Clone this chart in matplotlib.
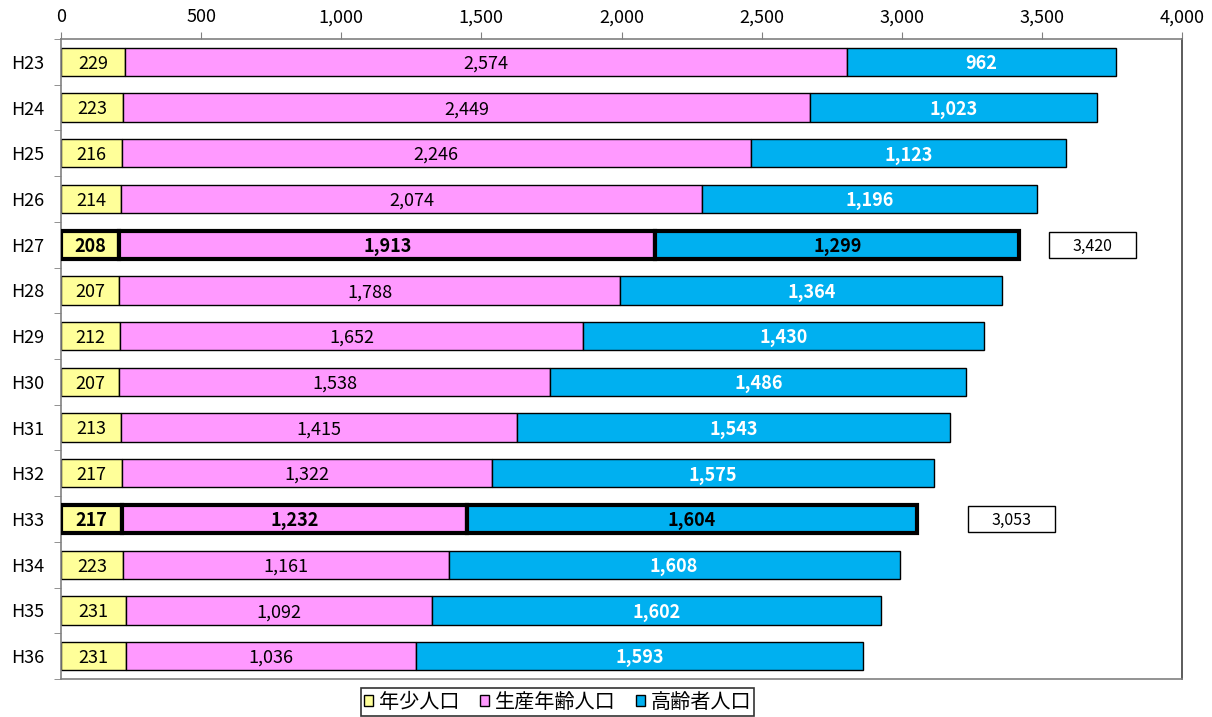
import matplotlib
matplotlib.use("Agg")
import matplotlib.pyplot as plt
from matplotlib.ticker import FuncFormatter, FixedLocator
from matplotlib.patches import Rectangle
import numpy as np

plt.rcParams['font.family'] = ['Noto Sans CJK JP', 'DejaVu Sans']

years = ["H23", "H24", "H25", "H26", "H27", "H28", "H29", "H30", "H31", "H32", "H33", "H34", "H35", "H36"]
young = [229, 223, 216, 214, 208, 207, 212, 207, 213, 217, 217, 223, 231, 231]
working = [2574, 2449, 2246, 2074, 1913, 1788, 1652, 1538, 1415, 1322, 1232, 1161, 1092, 1036]
elderly = [962, 1023, 1123, 1196, 1299, 1364, 1430, 1486, 1543, 1575, 1604, 1608, 1602, 1593]
series_names = ["年少人口", "生産年齢人口", "高齢者人口"]
highlight = ["H27", "H33"]
total_box_left = {"H27": 3525, "H33": 3236}

colors = ["#FFFF99", "#FF99FF", "#00B0F0"]

fig = plt.figure(figsize=(12.12, 7.17), dpi=100)
ax = fig.add_axes([61/1212, 1-679/717, (1182-61)/1212, (679-39)/717])

y = np.arange(len(years))
h = 0.62
dy = 0.04
left = np.zeros(len(years))
for si, (vals, c, name) in enumerate(zip([young, working, elderly], colors, series_names)):
    vals = np.array(vals, dtype=float)
    for i, yr in enumerate(years):
        hl = yr in highlight
        ax.barh(y[i], vals[i], left=left[i], height=h, color=c,
                edgecolor="black", linewidth=3 if hl else 1.0, zorder=3 if hl else 2,
                label=name if i == 0 else None)
        txtcol = "white" if si == 2 and not hl else "black"
        bold = hl or si == 2
        ax.text(left[i] + vals[i] / 2, y[i] + dy, f"{int(vals[i]):,}", ha="center",
                va="center", fontsize=13, color=txtcol,
                fontweight="bold" if bold else "normal", zorder=5)
    left = left + vals

for yr in highlight:
    i = years.index(yr)
    tot = young[i] + working[i] + elderly[i]
    bw, bh = 310, 0.57
    ax.add_patch(Rectangle((total_box_left[yr], y[i] - bh / 2), bw, bh, fc="white",
                           ec="black", lw=1.0, zorder=5))
    ax.text(total_box_left[yr] + bw / 2, y[i] + dy, f"{tot:,}", ha="center",
            va="center", fontsize=11.5, zorder=6)

ax.set_xlim(0, 4000)
ax.set_ylim(len(years) - 0.5, -0.5)
ax.xaxis.tick_top()
ax.set_xticks(np.arange(0, 4001, 500))
ax.xaxis.set_major_formatter(FuncFormatter(lambda v, p: f"{int(v):,}"))
ax.tick_params(axis="x", labelsize=13, length=5, color="#808080", pad=4)
ax.set_yticks(y)
ax.set_yticklabels(years)
ax.yaxis.set_minor_locator(FixedLocator(np.arange(-0.5, len(years), 1)))
ax.tick_params(axis="y", which="major", length=0, labelsize=13, pad=12)
ax.tick_params(axis="y", which="minor", length=5, color="#808080")
for s in ax.spines.values():
    s.set_color("#808080")
    s.set_linewidth(1.2)
ax.spines["right"].set_color("#404040")

leg = fig.legend(loc="center", bbox_to_anchor=(557.5/1212, 1-702/717), ncol=3, frameon=True,
                 fancybox=False, edgecolor="black", fontsize=14.5, handlelength=0.45,
                 handleheight=0.45, handletextpad=0.3, columnspacing=1.0,
                 borderpad=0.15, borderaxespad=0)
leg.get_frame().set_linewidth(1.2)
for p in leg.get_patches():
    p.set_linewidth(1.0)
    p.set_edgecolor("black")

fig.savefig("out.png", dpi=100)
